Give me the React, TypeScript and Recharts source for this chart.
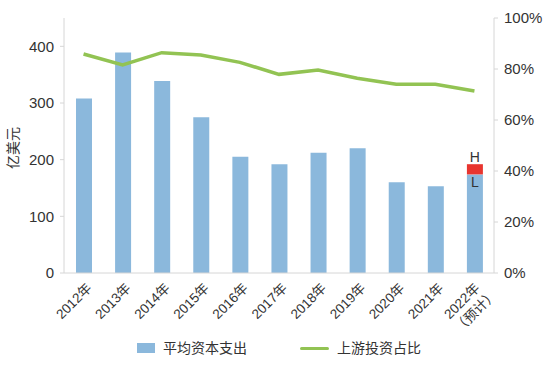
import {
  Bar,
  ComposedChart,
  Legend,
  Line,
  XAxis,
  YAxis,
} from "recharts";

const years = [
  "2012年",
  "2013年",
  "2014年",
  "2015年",
  "2016年",
  "2017年",
  "2018年",
  "2019年",
  "2020年",
  "2021年",
  "2022年\n（预计）",
];
// 平均资本支出 (亿美元); 2022 is the low estimate "L"
const capex = [308, 389, 339, 275, 205, 192, 212, 220, 160, 153, 174];
// gap between L and H for the 2022 estimate
const estimateRange = [null, null, null, null, null, null, null, null, null, null, 18];
// 上游投资占比
const upstreamShare = [0.859, 0.816, 0.864, 0.855, 0.826, 0.779, 0.796, 0.764, 0.74, 0.74, 0.714];

const leftTicks = [0, 100, 200, 300, 400];
const rightTicks = [0, 0.2, 0.4, 0.6, 0.8, 1];

const BLUE = "#8bb8dc";
const GREEN = "#92c353";
const RED = "#e8352f";
const AXIS = "#d6d6d6";
const TEXT = "#333333";
const FONT = "'Liberation Sans', 'Noto Sans CJK SC', sans-serif";
const CJK = "'Noto Sans CJK SC', sans-serif";

const data = years.map((year, i) => ({
  year,
  capex: capex[i],
  range: estimateRange[i],
  share: upstreamShare[i],
}));

const YearTick = (props: any) => {
  const { x, y, payload } = props;
  const lines = String(payload.value).split("\n");
  const shift = lines.length > 1 ? -3 : 0;
  return (
    <g transform={`translate(${x + 9 + shift},${y + 16})`}>
      <text transform="rotate(-45)" textAnchor="end" fontSize={13.5} fill={TEXT} fontFamily={FONT}>
        {lines.map((l, i) => (
          <tspan key={i} x={i ? 8 : 0} dy={i ? "1.25em" : 0} fontFamily={i ? CJK : FONT}>
            {l}
          </tspan>
        ))}
      </text>
    </g>
  );
};

const RangeLabel = (props: any) => {
  const { x, y, width, height, value } = props;
  if (value == null || !value) return null;
  const cx = Number(x) + Number(width) / 2;
  return (
    <g fontFamily={FONT} fontSize={14} fill={TEXT}>
      <text x={cx} y={Number(y) - 2} textAnchor="middle">
        H
      </text>
      <text x={cx} y={Number(y) + Number(height) + 13} textAnchor="middle">
        L
      </text>
    </g>
  );
};

const renderLegend = () => (
  <div style={{ position: "relative", height: 30, width: 550, fontSize: 14, color: TEXT, fontFamily: FONT }}>
    <span style={{ position: "absolute", left: 137, top: 8, width: 18, height: 10, background: BLUE }} />
    <span style={{ position: "absolute", left: 163, top: 5, lineHeight: "16px", whiteSpace: "nowrap" }}>
      平均资本支出
    </span>
    <span
      style={{ position: "absolute", left: 300, top: 12, width: 29, height: 3, borderRadius: 2, background: GREEN }}
    />
    <span style={{ position: "absolute", left: 337, top: 5, lineHeight: "16px", whiteSpace: "nowrap" }}>
      上游投资占比
    </span>
  </div>
);

export default function App() {
  return (
    <div style={{ position: "absolute", left: 0, top: 0, width: 550, height: 365, background: "#fff" }}>
      <ComposedChart
        width={550}
        height={365}
        data={data}
        margin={{ top: 18, right: 0, left: 0, bottom: 0 }}
        style={{ fontFamily: FONT }}
      >
        <XAxis
          dataKey="year"
          interval={0}
          height={62}
          tickLine={false}
          tickSize={0}
          tickMargin={0}
          axisLine={{ stroke: AXIS }}
          tick={<YearTick />}
        />
        <YAxis
          yAxisId="left"
          width={64}
          domain={[0, 450]}
          ticks={leftTicks}
          tickSize={4}
          tickMargin={6}
          axisLine={{ stroke: AXIS }}
          tickLine={{ stroke: AXIS }}
          tick={{ fontSize: 15, fill: TEXT }}
          label={() => (
            <text
              x={13}
              y={148}
              transform="rotate(-90 13 148)"
              textAnchor="middle"
              dominantBaseline="central"
              fontSize={14}
              fill={TEXT}
              fontFamily={FONT}
            >
              亿美元
            </text>
          )}
        />
        <YAxis
          yAxisId="right"
          orientation="right"
          width={56}
          domain={[0, 1]}
          ticks={rightTicks}
          tickSize={4}
          tickMargin={6}
          axisLine={{ stroke: AXIS }}
          tickLine={{ stroke: AXIS }}
          tick={{ fontSize: 15, fill: TEXT, textAnchor: "start" }}
          tickFormatter={(v) => `${Math.round(Number(v) * 100)}%`}
        />
        <Legend verticalAlign="bottom" height={30} content={renderLegend} />
        <Bar yAxisId="left" dataKey="capex" stackId="a" fill={BLUE} barSize={16} isAnimationActive={false} />
        <Bar
          yAxisId="left"
          dataKey="range"
          stackId="a"
          fill={RED}
          barSize={16}
          isAnimationActive={false}
          label={<RangeLabel />}
        />
        <Line
          yAxisId="right"
          dataKey="share"
          type="linear"
          stroke={GREEN}
          strokeWidth={3.5}
          dot={false}
          activeDot={false}
          isAnimationActive={false}
        />
      </ComposedChart>
    </div>
  );
}
